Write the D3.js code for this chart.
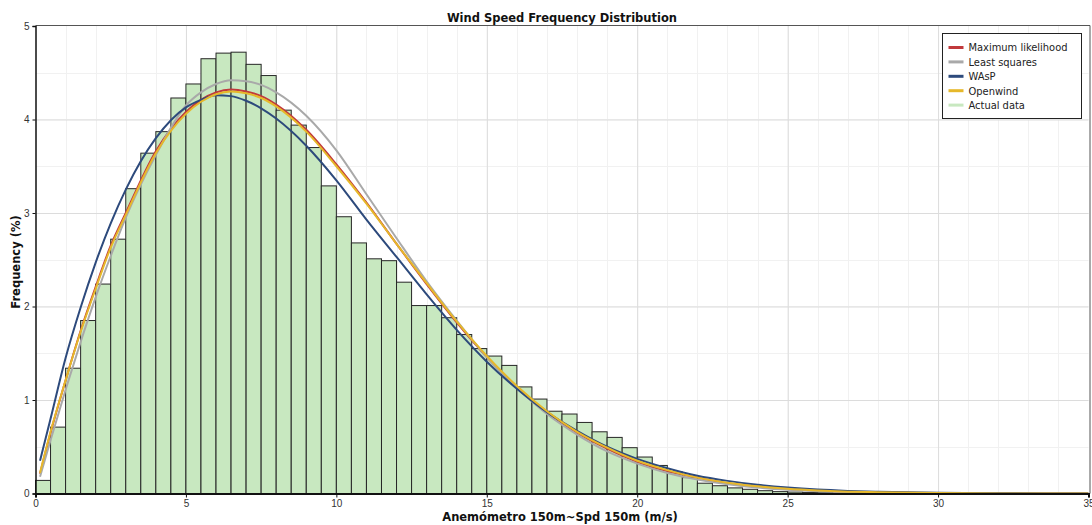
<!DOCTYPE html>
<html>
<head>
<meta charset="utf-8">
<script src="https://cdn.jsdelivr.net/npm/d3@7"></script>
<style>
  body { margin: 0; background: #fff; }
  svg { display: block; }
  .tick text { fill: #333; }
</style>
</head>
<body>
<div id="chart"></div>
<script>
// Tamaño del lienzo
var width = 1092;
var height = 525;

// Histograma de datos medidos (%), clases de 0.5 m/s empezando en 0
var binWidth = 0.5;
var actualData = [0.14, 0.71, 1.34, 1.85, 2.24, 2.72, 3.26, 3.64, 3.87, 4.23,
  4.38, 4.65, 4.71, 4.72, 4.59, 4.47, 4.10, 3.94, 3.70, 3.29,
  2.96, 2.68, 2.51, 2.49, 2.26, 2.01, 2.01, 1.88, 1.70, 1.55,
  1.47, 1.37, 1.14, 1.01, 0.88, 0.85, 0.76, 0.66, 0.60, 0.49,
  0.39, 0.30, 0.23, 0.17, 0.11, 0.083, 0.06, 0.045, 0.03, 0.02,
  0.015, 0.01, 0.008, 0.005, 0.004, 0.003, 0.002, 0.002, 0.001, 0.001];

// Velocidades donde se leen las curvas ajustadas
var speeds = [0.15, 0.5, 1, 1.5, 2, 2.5, 3, 4, 5, 5.5, 6, 6.5, 7, 7.5, 8, 9, 10, 11, 12, 13, 14, 15, 16,
  17, 18, 19, 20, 21, 22, 23, 24, 25, 26, 27, 28, 30, 32, 35];

var maxLikelihood = [0.21, 0.65, 1.21, 1.74, 2.21, 2.65, 3.00, 3.66, 4.08, 4.21, 4.29, 4.32, 4.30, 4.25, 4.16, 3.89, 3.52, 3.11, 2.67, 2.24, 1.83, 1.46, 1.14,
  0.87, 0.65, 0.48, 0.34, 0.24, 0.17, 0.11, 0.075, 0.049, 0.031, 0.019, 0.012, 0.004, 0.001, 0.0];
var leastSquares = [0.18, 0.57, 1.11, 1.62, 2.10, 2.54, 2.95, 3.62, 4.15, 4.29, 4.38, 4.42, 4.41, 4.37, 4.29, 4.04, 3.67, 3.20, 2.73, 2.27, 1.85, 1.46, 1.13,
  0.85, 0.63, 0.45, 0.32, 0.22, 0.15, 0.098, 0.063, 0.040, 0.025, 0.015, 0.009, 0.003, 0.001, 0.0];
var wasp = [0.35, 0.80, 1.45, 1.99, 2.47, 2.89, 3.25, 3.80, 4.13, 4.21, 4.26, 4.25, 4.20, 4.12, 4.01, 3.72, 3.35, 2.93, 2.53, 2.13, 1.75, 1.41, 1.12,
  0.87, 0.67, 0.50, 0.37, 0.27, 0.19, 0.135, 0.093, 0.063, 0.042, 0.028, 0.018, 0.007, 0.003, 0.0005];
var openwind = [0.22, 0.66, 1.21, 1.73, 2.19, 2.63, 2.98, 3.64, 4.06, 4.19, 4.27, 4.30, 4.28, 4.23, 4.14, 3.87, 3.50, 3.10, 2.67, 2.25, 1.84, 1.47, 1.15,
  0.88, 0.66, 0.49, 0.35, 0.25, 0.17, 0.115, 0.077, 0.05, 0.032, 0.02, 0.013, 0.005, 0.001, 0.0];

// Series y leyenda
var seriesNames = ["Maximum likelihood", "Least squares", "WAsP", "Openwind", "Actual data"];
var seriesColors = ["#c1393c", "#a9a9a9", "#2d4a7c", "#e6b82a", "#c8e8c0"];
var curveData = [maxLikelihood, leastSquares, wasp, openwind];

var xTicks = [0, 5, 10, 15, 20, 25, 30, 35];
var yTicks = [0, 1, 2, 3, 4, 5];

// Área del gráfico
var plotLeft = 35.5, plotRight = 1088.5, plotTop = 26, plotBottom = 493.5;

var x = d3.scaleLinear().domain([0, 35]).range([plotLeft, plotRight]);
var y = d3.scaleLinear().domain([0, 5]).range([plotBottom, plotTop]);

var svg = d3.select("#chart").append("svg")
  .attr("width", width)
  .attr("height", height)
  .style("font-family", "'DejaVu Sans', Verdana, sans-serif");

// Rejilla menor
svg.append("g")
  .selectAll("line")
  .data(d3.range(1, 35))
  .enter().append("line")
  .attr("x1", function(d) { return Math.round(x(d)) + 0.5; })
  .attr("x2", function(d) { return Math.round(x(d)) + 0.5; })
  .attr("y1", plotTop).attr("y2", plotBottom)
  .attr("stroke", "#f1f1f1");

svg.append("g")
  .selectAll("line")
  .data(d3.range(0.5, 5, 0.5))
  .enter().append("line")
  .attr("y1", function(d) { return Math.round(y(d)) + 0.5; })
  .attr("y2", function(d) { return Math.round(y(d)) + 0.5; })
  .attr("x1", plotLeft).attr("x2", plotRight)
  .attr("stroke", "#f1f1f1");

// Rejilla mayor
svg.append("g")
  .attr("transform", "translate(0," + plotBottom + ")")
  .call(d3.axisBottom(x).tickValues(xTicks.slice(1, -1)).tickSize(-(plotBottom - plotTop)).tickFormat(""))
  .call(function(g) {
    g.select(".domain").remove();
    g.selectAll("line").attr("stroke", "#dcdcdc");
  });

svg.append("g")
  .attr("transform", "translate(" + plotLeft + ",0)")
  .call(d3.axisLeft(y).tickValues(yTicks.slice(1, -1)).tickSize(-(plotRight - plotLeft)).tickFormat(""))
  .call(function(g) {
    g.select(".domain").remove();
    g.selectAll("line").attr("stroke", "#dcdcdc");
  });

// Barras de datos medidos
svg.append("g")
  .selectAll("rect")
  .data(actualData)
  .enter().append("rect")
  .attr("x", function(d, i) { return x(i * binWidth); })
  .attr("width", function(d, i) { return x((i + 1) * binWidth) - x(i * binWidth); })
  .attr("y", function(d) { return y(d); })
  .attr("height", function(d) { return plotBottom - y(d); })
  .attr("fill", seriesColors[4])
  .attr("stroke", "#262626")
  .attr("stroke-width", 1);

// Curvas ajustadas
svg.append("clipPath").attr("id", "plotClip")
  .append("rect").attr("x", plotLeft).attr("y", plotTop).attr("width", plotRight - plotLeft).attr("height", plotBottom - plotTop);

var line = d3.line()
  .x(function(d) { return x(d[0]); })
  .y(function(d) { return y(d[1]); })
  .curve(d3.curveMonotoneX);

svg.append("g")
  .attr("clip-path", "url(#plotClip)")
  .selectAll("path")
  .data(curveData)
  .enter().append("path")
  .attr("d", function(vals) { return line(speeds.map(function(s, i) { return [s, vals[i]]; })); })
  .attr("fill", "none")
  .attr("stroke", function(d, i) { return seriesColors[i]; })
  .attr("stroke-width", 2);

// Marco del gráfico
svg.append("line").attr("x1", plotLeft).attr("x2", plotRight + 1.5).attr("y1", plotTop - 0.5).attr("y2", plotTop - 0.5).attr("stroke", "#555");
svg.append("line").attr("x1", plotRight + 1.5).attr("x2", plotRight + 1.5).attr("y1", plotTop - 0.5).attr("y2", plotBottom).attr("stroke", "#555");

// Ejes
var xAxis = svg.append("g")
  .attr("transform", "translate(0," + plotBottom + ")")
  .call(d3.axisBottom(x).tickValues(xTicks).tickSize(4).tickPadding(2).tickFormat(d3.format("d")));
xAxis.select(".domain").attr("stroke", "#111").attr("stroke-width", 2);
xAxis.selectAll("line").attr("stroke", "#111");
xAxis.selectAll("text").style("font-size", "10px");

var yAxis = svg.append("g")
  .attr("transform", "translate(" + plotLeft + ",0)")
  .call(d3.axisLeft(y).tickValues(yTicks).tickSize(3).tickPadding(3).tickFormat(d3.format("d")));
yAxis.select(".domain").attr("stroke", "#111").attr("stroke-width", 1.5);
yAxis.selectAll("line").attr("stroke", "#111");
yAxis.selectAll("text").style("font-size", "10px");

// Títulos
svg.append("text")
  .attr("x", (plotLeft + plotRight) / 2)
  .attr("y", 22)
  .attr("text-anchor", "middle")
  .style("font-size", "11.5px")
  .style("font-weight", "bold")
  .attr("fill", "#111")
  .text("Wind Speed Frequency Distribution");

svg.append("text")
  .attr("x", (plotLeft + plotRight) / 2 - 2)
  .attr("y", 521)
  .attr("text-anchor", "middle")
  .style("font-size", "11.5px")
  .style("font-weight", "bold")
  .attr("fill", "#111")
  .text("Anemómetro 150m~Spd 150m (m/s)");

svg.append("text")
  .attr("transform", "translate(20,262) rotate(-90)")
  .attr("text-anchor", "middle")
  .style("font-size", "11.5px")
  .style("font-weight", "bold")
  .attr("fill", "#111")
  .text("Frequency (%)");

// Leyenda
var legend = svg.append("g").attr("transform", "translate(942.5,33.5)");
legend.append("rect")
  .attr("width", 139).attr("height", 85)
  .attr("fill", "#fff").attr("stroke", "#222");

var item = legend.selectAll("g")
  .data(seriesNames)
  .enter().append("g")
  .attr("transform", function(d, i) { return "translate(0," + (14 + i * 14.4) + ")"; });

item.append("line")
  .attr("x1", 6).attr("x2", 21)
  .attr("stroke", function(d, i) { return seriesColors[i]; })
  .attr("stroke-width", 3);

item.append("text")
  .attr("x", 26).attr("dy", "0.35em")
  .style("font-size", "11px")
  .style("font-family", "'DejaVu Sans Condensed', 'DejaVu Sans', sans-serif")
  .attr("fill", "#222")
  .text(function(d) { return d; });
</script>
</body>
</html>
